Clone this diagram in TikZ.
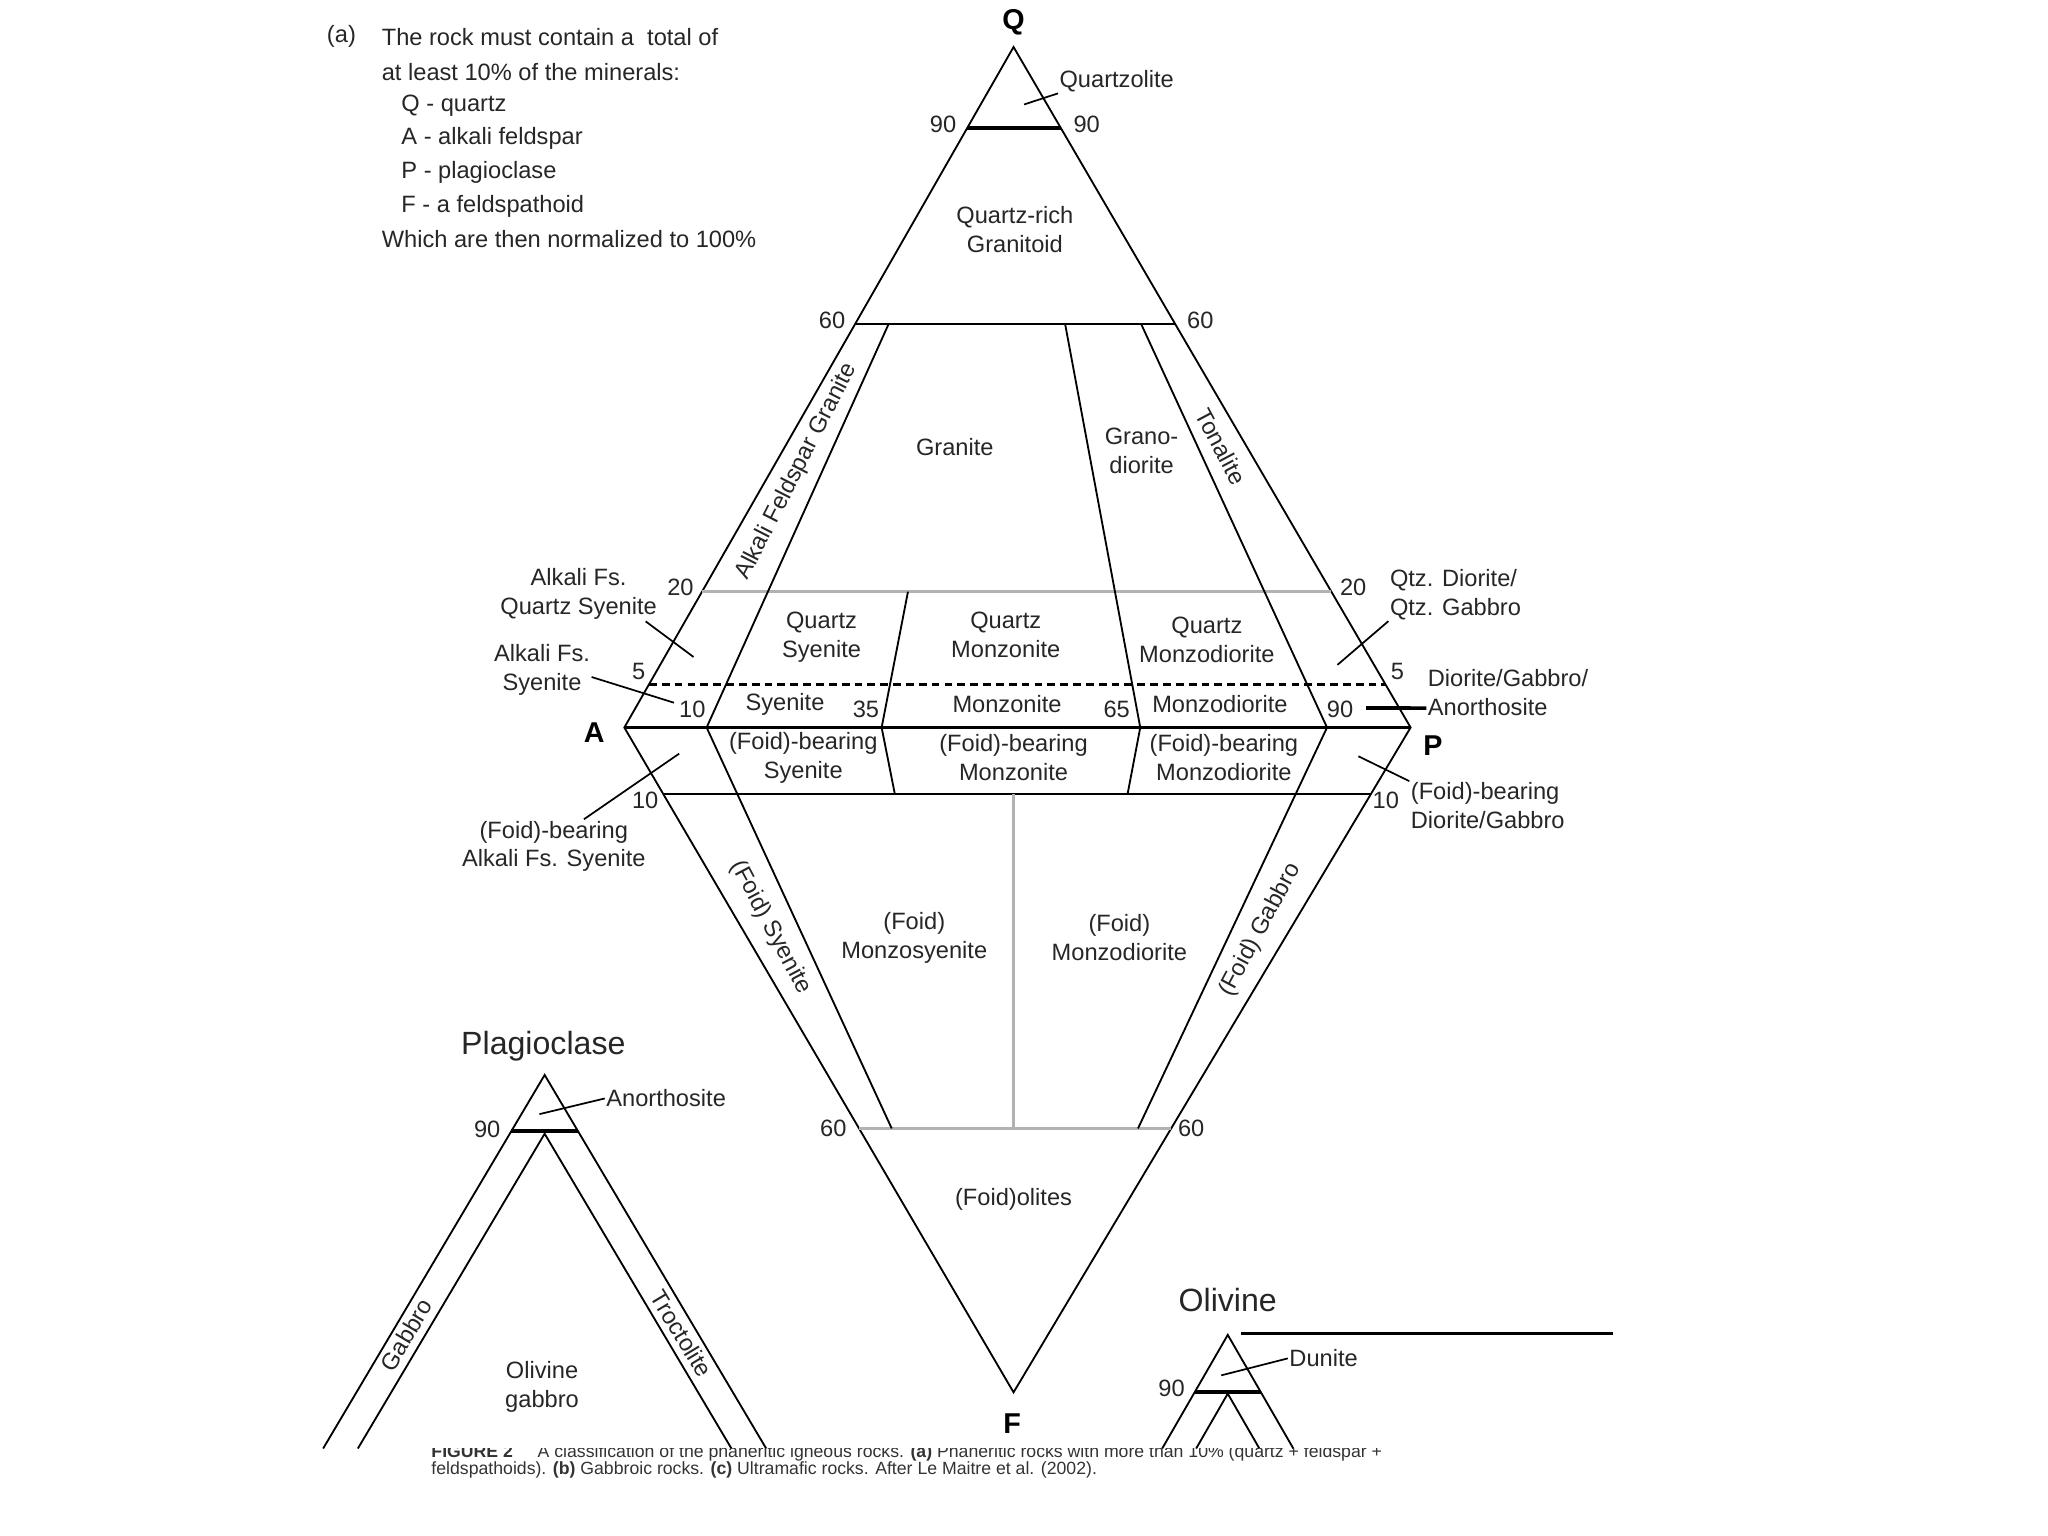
\documentclass[tikz,border=0pt]{standalone}
\usepackage{fontspec}
\setmainfont{Liberation Sans}
\usepackage{tikz}
\usetikzlibrary{calc}

\begin{document}
\begin{tikzpicture}[
    x=0.02cm, y=-0.02cm,
    rimline/.style={line width=0.8pt},
    heavyline/.style={line width=1.6pt},
    midline/.style={line width=1.1pt},
    greyline/.style={gray!60, line width=1.5pt},
    dashline/.style={line width=1pt, dash pattern=on 3.4pt off 2.2pt},
    leaderline/.style={line width=0.75pt},
    zonelbl/.style={font=\fontsize{10.3}{12.6}\selectfont, align=center, inner sep=0.5pt, text=black!85},
    sidelbl/.style={zonelbl, align=left, anchor=west},
    ticklbl/.style={font=\fontsize{10.3}{12.6}\selectfont, inner sep=0pt, text=black!85},
    vertexlbl/.style={font=\fontsize{12.5}{15}\selectfont\bfseries, inner sep=0pt},
    titlelbl/.style={font=\fontsize{14}{17}\selectfont, inner sep=0pt, text=black!85},
    notelbl/.style={font=\fontsize{10.3}{12.6}\selectfont, anchor=west, inner sep=0pt, text=black!85},
    captionlbl/.style={font=\fontsize{7.7}{9.3}\selectfont, anchor=base west, inner sep=0pt, text=black!80}
]
    \useasboundingbox (0,0) rectangle (1568,1176);

    % (a) notes
    \node[notelbl] (tag)   at (250,28)  {(a)};
    \node[notelbl] (note1) at (292,28)  {The rock must contain a\ \ total of};
    \node[notelbl] (note2) at (292,55)  {at least 10\% of the minerals:};
    \node[notelbl] (note3) at (307,81)  {Q - quartz};
    \node[notelbl] (note4) at (307,106) {A - alkali feldspar};
    \node[notelbl] (note5) at (307,132) {P - plagioclase};
    \node[notelbl] (note6) at (307,158) {F - a feldspathoid};
    \node[notelbl] (note7) at (292,183) {Which are then normalized to 100\%};

    % QAPF diamond
    \coordinate (Q) at (776,36);
    \coordinate (A) at (478,557);
    \coordinate (P) at (1080,557);
    \coordinate (F) at (776,1066);
    \coordinate (a10) at (541,557);
    \coordinate (a35) at (675,557);
    \coordinate (a50) at (776,557);
    \coordinate (a65) at (873,557);
    \coordinate (a90) at (1016,557);

    \draw[rimline] (A) -- (Q) -- (P) -- (F) -- cycle;

    \draw[heavyline] ($(A)!0.881!(Q)$) -- ($(P)!0.881!(Q)$);
    \draw[midline]   ($(A)!0.593!(Q)$) -- ($(P)!0.593!(Q)$);
    \draw[greyline]  ($(A)!0.1996!(Q)$) -- ($(P)!0.1996!(Q)$);
    \draw[dashline]  ($(A)!0.0633!(Q)$) -- ($(P)!0.0633!(Q)$);
    \draw[heavyline] (A) -- (P);
    \draw[midline]   ($(A)!0.1!(F)$) -- ($(P)!0.1!(F)$);
    \draw[greyline]  ($(A)!0.603!(F)$) -- ($(P)!0.603!(F)$);

    \draw[rimline] (a10) -- ($(a10)!0.593!(Q)$);
    \draw[rimline] (a10) -- ($(a10)!0.603!(F)$);
    \draw[rimline] (a90) -- ($(a90)!0.593!(Q)$);
    \draw[rimline] (a90) -- ($(a90)!0.603!(F)$);
    \draw[rimline] (a35) -- ($(a35)!0.1996!(Q)$);
    \draw[rimline] (a35) -- ($(a35)!0.1!(F)$);
    \draw[rimline] (a65) -- ($(a65)!0.593!(Q)$);
    \draw[rimline] (a65) -- ($(a65)!0.1!(F)$);
    \draw[greyline, line width=1pt] ($(a50)!0.1!(F)$) -- ($(a50)!0.603!(F)$);

    \node[vertexlbl] (lQ) at (776,17)   {Q};
    \node[vertexlbl] (lA) at (455,561)  {A};
    \node[vertexlbl] (lP) at (1097,571) {P};
    \node[vertexlbl] (lF) at (775,1090) {F};

    % scale values
    \node[ticklbl] (t90l) at (722,95)   {90};
    \node[ticklbl] (t90r) at (832,95)   {90};
    \node[ticklbl] (t60l) at (637,245)  {60};
    \node[ticklbl] (t60r) at (919,245)  {60};
    \node[ticklbl] (t20l) at (521,450)  {20};
    \node[ticklbl] (t20r) at (1036,450) {20};
    \node[ticklbl] (t5l)  at (489,514)  {5};
    \node[ticklbl] (t5r)  at (1070,514) {5};
    \node[ticklbl] (t10a) at (530,543)  {10};
    \node[ticklbl] (t35)  at (663,543)  {35};
    \node[ticklbl] (t65)  at (855,543)  {65};
    \node[ticklbl] (t90a) at (1026,543) {90};
    \node[ticklbl] (t10l) at (494,613)  {10};
    \node[ticklbl] (t10r) at (1061,613) {10};
    \node[ticklbl] (t60a) at (638,864)  {60};
    \node[ticklbl] (t60b) at (912,864)  {60};

    % fields
    \node[zonelbl] (qrg)  at (777,176) {Quartz-rich\\Granitoid};
    \node[zonelbl] (gra)  at (731,342) {Granite};
    \node[zonelbl] (grd)  at (874,345) {Grano-\\diorite};
    \node[zonelbl, rotate=63]  (afg) at (610,361) {Alkali Feldspar Granite};
    \node[zonelbl, rotate=-62] (ton) at (935,342) {Tonalite};
    \node[zonelbl] (qsy)  at (629,488) {Quartz\\Syenite};
    \node[zonelbl] (qmz)  at (770,486) {Quartz\\Monzonite};
    \node[zonelbl] (qmd)  at (924,490) {Quartz\\Monzodiorite};
    \node[zonelbl] (sye)  at (601,539) {Syenite};
    \node[zonelbl] (mzn)  at (771,539) {Monzonite};
    \node[zonelbl] (mzd)  at (934,539) {Monzodiorite};
    \node[zonelbl] (fbs)  at (615,580) {(Foid)-bearing\\Syenite};
    \node[zonelbl] (fbm)  at (776,580) {(Foid)-bearing\\Monzonite};
    \node[zonelbl] (fbd)  at (937,580) {(Foid)-bearing\\Monzodiorite};
    \node[zonelbl, rotate=-62] (fsy) at (590,710) {(Foid) Syenite};
    \node[zonelbl, rotate=62]  (fgb) at (965,712) {(Foid) Gabbro};
    \node[zonelbl] (fms)  at (700,718) {(Foid)\\Monzosyenite};
    \node[zonelbl] (fmd)  at (857,718) {(Foid)\\Monzodiorite};
    \node[zonelbl] (foi)  at (776,918) {(Foid)olites};

    % labels with leaders
    \coordinate (qzl) at (784,80);
    \node[zonelbl] (quartzolite) at (855,62) {Quartzolite};
    \draw[leaderline] (qzl) -- (quartzolite.south west);

    \coordinate (aqsl) at (531,503);
    \node[zonelbl] (aqs) at (443,455) {Alkali Fs.\\Quartz Syenite};
    \draw[leaderline] (aqs.-22) -- (aqsl);

    \coordinate (afsl) at (516,538);
    \node[zonelbl] (afs) at (415,513) {Alkali Fs.\\Syenite};
    \draw[leaderline] (afs.-8) -- (afsl);

    \coordinate (fbafsl) at (520,577);
    \node[zonelbl] (fbafs) at (424,648) {(Foid)-bearing\\Alkali Fs. Syenite};
    \draw[leaderline] (fbafs.42) -- (fbafsl);

    \coordinate (qdgl) at (1024,509);
    \node[sidelbl] (qdg) at (1063,455) {Qtz. Diorite/\\Qtz. Gabbro};
    \draw[leaderline] (qdgl) -- (qdg.south west);

    \coordinate (dgal) at (1046,542);
    \node[sidelbl] (dga) at (1092,530) {Diorite/Gabbro/\\Anorthosite};
    \draw[heavyline] (dgal) -- (dga.191);

    \coordinate (fbdgl) at (1040,579);
    \node[sidelbl] (fbdg) at (1079,617) {(Foid)-bearing\\Diorite/Gabbro};
    \draw[leaderline] (fbdgl) -- (fbdg.north west);

    % plagioclase
    \node[titlelbl] (plag) at (416,801) {Plagioclase};
    \coordinate (pt) at (417,823);
    \coordinate (pi) at (417,868);
    \draw[rimline] ($(pt)+(-169.6,286)$) -- (pt) -- ($(pt)+(169.6,286)$);
    \draw[rimline] ($(pi)+(-143,241)$) -- (pi) -- ($(pi)+(143,241)$);
    \draw[heavyline] ($(pt)+(-25.5,43)$) -- ($(pt)+(25.5,43)$);
    \node[ticklbl] (p90) at (373,865) {90};
    \coordinate (anol) at (413,853);
    \node[zonelbl, anchor=west] (ano) at (463,841) {Anorthosite};
    \draw[leaderline] (anol) -- (ano.west);
    \node[zonelbl, rotate=59]  (gab) at (311,1022) {Gabbro};
    \node[zonelbl, rotate=-59] (tro) at (522,1021) {Troctolite};
    \node[zonelbl] (olg) at (415,1062) {Olivine\\gabbro};

    % olivine
    \node[titlelbl] (oliv) at (940,995) {Olivine};
    \coordinate (ot) at (940,1022);
    \coordinate (oi) at (940,1067);
    \draw[rimline] ($(ot)+(-50.2,87)$) -- (ot) -- ($(ot)+(50.2,87)$);
    \draw[rimline] ($(oi)+(-24.2,42)$) -- (oi) -- ($(oi)+(24.2,42)$);
    \draw[heavyline] ($(ot)+(-25.2,43.6)$) -- ($(ot)+(25.2,43.6)$);
    \coordinate (rulel) at (950,1021);
    \coordinate (ruler) at (1235,1021);
    \draw[heavyline] (rulel) -- (ruler);
    \node[ticklbl] (o90) at (897,1063) {90};
    \coordinate (dunl) at (935,1053);
    \node[zonelbl, anchor=west] (dun) at (986,1040) {Dunite};
    \draw[leaderline] (dunl) -- (dun.west);

    % caption, first line cut off at the top
    \begin{scope}
        \clip (0,1109) rectangle (1568,1176);
        \node[captionlbl] (cap1) at (330,1116) {\textbf{FIGURE 2}\hspace{1.4em}A classification of the phaneritic igneous rocks. \textbf{(a)} Phaneritic rocks with more than 10\% (quartz + feldspar +};
    \end{scope}
    \node[captionlbl] (cap2) at (330,1129) {feldspathoids). \textbf{(b)} Gabbroic rocks. \textbf{(c)} Ultramafic rocks. After Le Maitre et al. (2002).};
\end{tikzpicture}
\end{document}
